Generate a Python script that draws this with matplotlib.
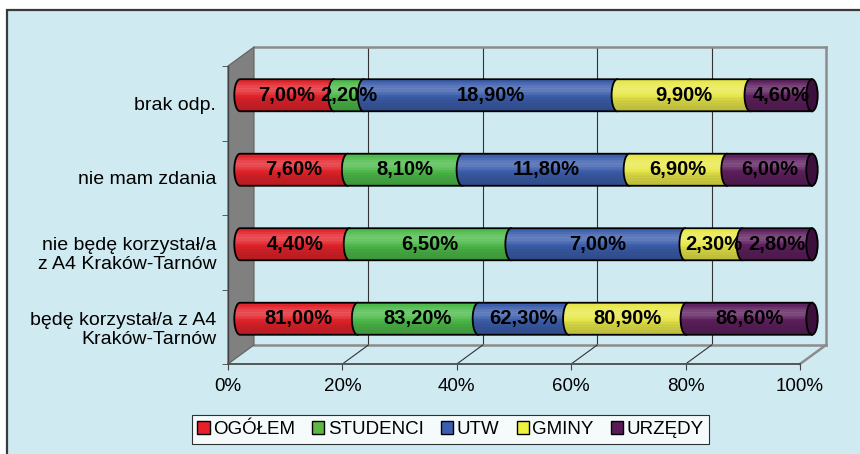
import numpy as np
import matplotlib
matplotlib.use("Agg")
import matplotlib.pyplot as plt
from matplotlib.patches import PathPatch, Ellipse, Patch, Rectangle, Polygon
from matplotlib.path import Path
from matplotlib.lines import Line2D

# ================= DATA ================= #
CATEGORIES = ["będę korzystał/a z A4\nKraków-Tarnów",
              "nie będę korzystał/a\nz A4 Kraków-Tarnów",
              "nie mam zdania",
              "brak odp."]
SERIES = ["OGÓŁEM", "STUDENCI", "UTW", "GMINY", "URZĘDY"]

OGOLEM = [81.0, 4.4, 7.6, 7.0]
STUDENCI = [83.2, 6.5, 8.1, 2.2]
UTW = [62.3, 7.0, 11.8, 18.9]
GMINY = [80.9, 2.3, 6.9, 9.9]
URZEDY = [86.6, 2.8, 6.0, 4.6]

X_TICKS = [0, 20, 40, 60, 80, 100]

# ================= STYLE ================= #
plt.rcParams["font.family"] = ["Liberation Sans", "DejaVu Sans"]

BASE = ["#e3232b", "#4dbb4a", "#3c5eac", "#e8e84a", "#5e205e"]
LEGEND_COLORS = ["#e8202a", "#5cb840", "#3a5fb0", "#f0f040", "#5a1a5a"]
CAP_COLOR = "#3c0f3c"
BG = "#cfeaf0"

W, H = 860, 454


def px(l, t, r, b):
    return [l / W, 1 - b / H, (r - l) / W, (b - t) / H]


fig = plt.figure(figsize=(8.6, 4.54), dpi=100, facecolor="white")
fig.patches.append(Rectangle((7 / W, -0.1), 1.2, 1.1 - 10 / H, transform=fig.transFigure,
                             facecolor=BG, edgecolor="#3a3a3a", linewidth=1.6, zorder=-10))

front = [228, 66, 800, 364]
wall = [254, 47, 826, 345]
# bar plane: 0% at x=240, 100% at x=812, with a 3% margin each side for the caps
m = 3
span = 812 - 240
barpos = [240 - span * m / 100, 58, 812 + span * m / 100, 356]

wax = fig.add_axes(px(*wall), zorder=0)
ax = fig.add_axes(px(*front), zorder=1)
bax = fig.add_axes(px(*barpos), zorder=2)

ylim = (-0.5, len(CATEGORIES) - 0.5)

# ---- back wall ----
wax.set_xlim(0, 100)
wax.set_ylim(*ylim)
wax.set_facecolor("none")
wax.set_xticks(X_TICKS[1:-1])
wax.set_yticks([])
wax.tick_params(length=0, labelbottom=False)
wax.grid(axis="x", color="#333333", linewidth=0.8)
for s in ["top", "right", "bottom"]:
    wax.spines[s].set_color("#8c8c8c")
    wax.spines[s].set_linewidth(1.8)
wax.spines["left"].set_visible(False)

fl, fb = front[0] / W, 1 - front[3] / H
ft, fr = 1 - front[1] / H, front[2] / W
wl, wb = wall[0] / W, 1 - wall[3] / H
wt, wr = 1 - wall[1] / H, wall[2] / W

# side wall
fig.patches.append(Polygon([(fl, ft), (wl, wt), (wl, wb), (fl, fb)], closed=True,
                           transform=fig.transFigure, facecolor="#808080",
                           edgecolor="#606060", linewidth=0.8, zorder=0.5))
# floor lines
for v in X_TICKS[1:-1]:
    x0 = fl + v / 100 * (fr - fl)
    x1 = wl + v / 100 * (wr - wl)
    fig.lines.append(Line2D([x0, x1], [fb, wb], transform=fig.transFigure,
                            color="#333333", linewidth=0.8, zorder=0.5))
fig.lines.append(Line2D([fr, wr], [fb, wb], transform=fig.transFigure,
                        color="#8c8c8c", linewidth=1.8, zorder=0.5))

# ---- front axis: labels and ticks ----
ax.set_xlim(0, 100)
ax.set_ylim(*ylim)
ax.set_facecolor("none")
ax.set_xticks(X_TICKS)
ax.set_xticklabels([f"{v}%" for v in X_TICKS], fontsize=13.5)
ax.set_yticks(range(len(CATEGORIES)))
ax.set_yticklabels(CATEGORIES, fontsize=14, linespacing=1.15)
ax.set_yticks(np.arange(-0.5, len(CATEGORIES)), minor=True)
ax.tick_params(axis="y", which="major", length=0, pad=8.5)
ax.tick_params(axis="y", which="minor", length=4, color="#444444", direction="out")
ax.tick_params(axis="x", length=4, color="#444444", direction="out", pad=6)
for s in ["top", "right"]:
    ax.spines[s].set_visible(False)
ax.spines["bottom"].set_color("#555555")
ax.spines["bottom"].set_linewidth(1.4)
ax.spines["left"].set_color("#444444")
ax.spines["left"].set_linewidth(1.0)

# ---- bars (cylinders) ----
data = np.array([OGOLEM, STUDENCI, UTW, GMINY, URZEDY])
shares = data / data.sum(axis=0) * 100
cum = np.vstack([np.zeros(len(CATEGORIES)), np.cumsum(shares, axis=0)])

bh = 0.43
a = 1.0  # ellipse half-width in % units

n = 48
t = np.linspace(0, 1, n)
prof = 0.93 + 0.24 * np.exp(-((t - 0.66) / 0.22) ** 2) - 0.14 * (1 - t) ** 2
stripes = 1 + 0.05 * ((np.arange(n) % 4) == 0)
prof = prof * stripes


def shade(hexcol):
    rgb = np.array(matplotlib.colors.to_rgb(hexcol))
    img = np.zeros((n, 1, 3))
    for i, f in enumerate(prof):
        if f <= 1:
            img[i, 0] = rgb * f
        else:
            img[i, 0] = rgb + (1 - rgb) * (f - 1) * 1.2
    return np.clip(img, 0, 1)


z = 3
for j in range(len(CATEGORIES)):
    yc = j
    top, bot = yc + bh / 2, yc - bh / 2
    for i in range(len(SERIES)):
        x0, x1 = cum[i, j], cum[i + 1, j]
        th = np.linspace(np.pi / 2, 3 * np.pi / 2, 30)
        verts = [(x1, top), (x0, top)]
        verts += list(zip(x0 + a * np.cos(th), yc + bh / 2 * np.sin(th)))
        verts += [(x1, bot), (x1, top)]
        codes = [Path.MOVETO] + [Path.LINETO] * (len(verts) - 2) + [Path.CLOSEPOLY]
        patch = PathPatch(Path(verts, codes), facecolor="none", edgecolor="black",
                          linewidth=1.3, zorder=z + 1)
        bax.add_patch(patch)
        im = bax.imshow(shade(BASE[i]), extent=(x0 - a, x1, bot, top), aspect="auto",
                        origin="lower", interpolation="bilinear", zorder=z)
        im.set_clip_path(patch)
        z += 2
        bax.text((x0 + x1) / 2, yc, f"{data[i, j]:.2f}%".replace(".", ","),
                 ha="center", va="center", fontsize=14.5, fontweight="bold",
                 color="black", zorder=100)
    bax.add_patch(Ellipse((100, yc), 2 * a, bh, facecolor=CAP_COLOR, edgecolor="black",
                          linewidth=1.3, zorder=z))
    z += 1

bax.set_xlim(-m, 100 + m)
bax.set_ylim(*ylim)
bax.set_facecolor("none")
bax.axis("off")

# ---- legend ----
handles = [Patch(facecolor=c, edgecolor="black", linewidth=1.0) for c in LEGEND_COLORS]
leg = fig.legend(handles, SERIES, loc="center", bbox_to_anchor=(0.524, 0.054), ncol=5,
                 fontsize=13.5, frameon=True, fancybox=False, edgecolor="black",
                 handlelength=0.65, handleheight=0.65, handletextpad=0.2,
                 columnspacing=0.9, borderpad=0.3, borderaxespad=0)
leg.get_frame().set_linewidth(0.8)

plt.savefig("out.png", dpi=100, facecolor=fig.get_facecolor())
